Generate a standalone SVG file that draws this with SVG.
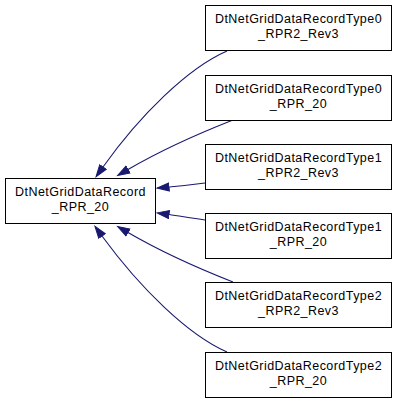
<svg xmlns="http://www.w3.org/2000/svg" width="397" height="403" viewBox="0 0 397 403">
<style>
.box{fill:#fff;stroke:#000;stroke-width:1}
.lbl{font-family:"Liberation Sans",Arial,sans-serif;font-size:12.5px;letter-spacing:0.45px;text-anchor:middle;fill:#000}
.edge{fill:none;stroke:#191970;stroke-width:1.1}
</style>
<defs>
<marker id="arr" markerUnits="userSpaceOnUse" markerWidth="14" markerHeight="10" viewBox="0 0 14 10" refX="0.5" refY="5" orient="auto">
<path d="M0.5,1 L12.5,5 L0.5,9 Z" fill="#191970" stroke="#191970" stroke-width="1"/>
</marker>
</defs>
<rect width="397" height="403" fill="#fff"/>
<g id="edges">
<path class="edge" marker-end="url(#arr)" d="M227,51 C188,68 140,115 103,167"/>
<path class="edge" marker-end="url(#arr)" d="M233,120 C205,131 165,148 128,169.5"/>
<path class="edge" marker-end="url(#arr)" d="M205,183 C190,185 180,186 169,187"/>
<path class="edge" marker-end="url(#arr)" d="M205,220 C190,218 180,216 169,214.5"/>
<path class="edge" marker-end="url(#arr)" d="M233,282 C205,271 165,254 128,232.5"/>
<path class="edge" marker-end="url(#arr)" d="M227,352 C188,335 140,288 102,236"/>
</g>
<g id="node_base">
<rect class="box" x="5.5" y="178.5" width="150" height="45"/>
<text class="lbl" x="80.5" y="196">DtNetGridDataRecord</text>
<text class="lbl" x="80.5" y="211">_RPR_20</text>
</g>
<g id="node_t0_rev3">
<rect class="box" x="205.5" y="5.5" width="186" height="45"/>
<text class="lbl" x="298.5" y="23">DtNetGridDataRecordType0</text>
<text class="lbl" x="298.5" y="38">_RPR2_Rev3</text>
</g>
<g id="node_t0_20">
<rect class="box" x="205.5" y="75.5" width="186" height="45"/>
<text class="lbl" x="298.5" y="93">DtNetGridDataRecordType0</text>
<text class="lbl" x="298.5" y="108">_RPR_20</text>
</g>
<g id="node_t1_rev3">
<rect class="box" x="205.5" y="144.5" width="186" height="45"/>
<text class="lbl" x="298.5" y="162">DtNetGridDataRecordType1</text>
<text class="lbl" x="298.5" y="177">_RPR2_Rev3</text>
</g>
<g id="node_t1_20">
<rect class="box" x="205.5" y="213.5" width="186" height="45"/>
<text class="lbl" x="298.5" y="231">DtNetGridDataRecordType1</text>
<text class="lbl" x="298.5" y="246">_RPR_20</text>
</g>
<g id="node_t2_rev3">
<rect class="box" x="205.5" y="282.5" width="186" height="45"/>
<text class="lbl" x="298.5" y="300">DtNetGridDataRecordType2</text>
<text class="lbl" x="298.5" y="315">_RPR2_Rev3</text>
</g>
<g id="node_t2_20">
<rect class="box" x="205.5" y="352.5" width="186" height="45"/>
<text class="lbl" x="298.5" y="370">DtNetGridDataRecordType2</text>
<text class="lbl" x="298.5" y="385">_RPR_20</text>
</g>
</svg>
